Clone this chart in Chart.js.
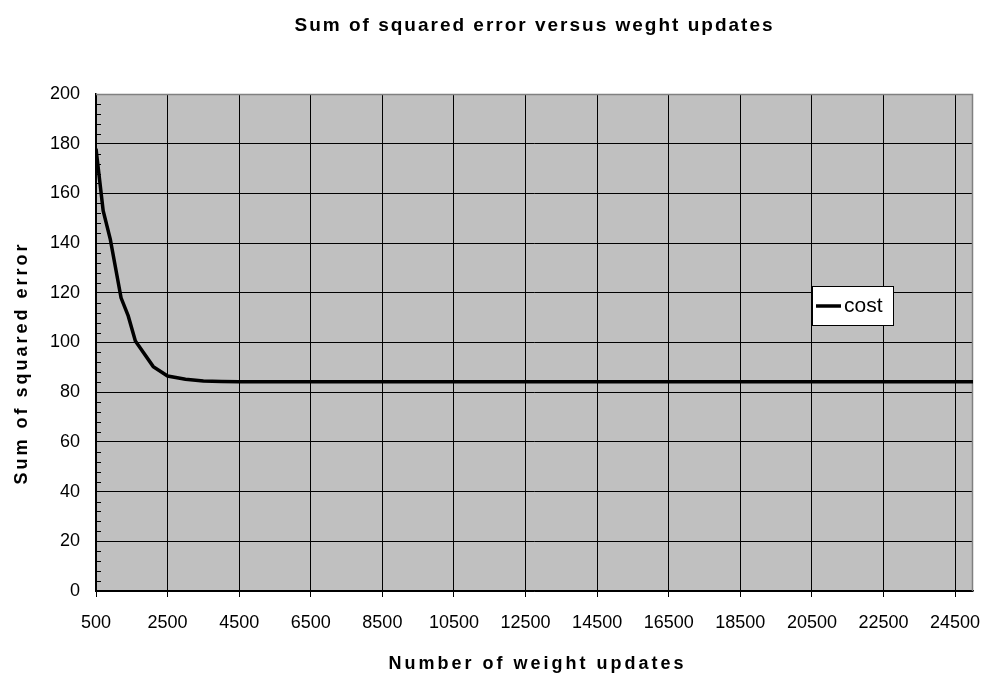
<!DOCTYPE html>
<html>
<head>
<meta charset="utf-8">
<script src="https://cdn.jsdelivr.net/npm/chart.js@4/dist/chart.umd.min.js"></script>
<style>
  html, body { margin: 0; padding: 0; background: #fff; }
  #wrap { width: 988px; height: 681px; position: relative; }
</style>
</head>
<body>
<div id="wrap"><canvas id="chart"></canvas></div>
<script>
// Dados
const chartTitle = 'Sum of squared error versus weght updates';
const xTitle = 'Number of weight updates';
const yTitle = 'Sum of squared error';
const seriesName = 'cost';

const weightUpdates = [500, 700, 900, 1200, 1400, 1600, 2100, 2500, 3000, 3500,
  4000, 4500, 5000, 5500, 6000, 6500, 7000, 7500, 8000, 8500,
  9000, 9500, 10000, 10500, 11000, 11500, 12000, 12500, 13000, 13500,
  14000, 14500, 15000, 15500, 16000, 16500, 17000, 17500, 18000, 18500,
  19000, 19500, 20000, 20500, 21000, 21500, 22000, 22500, 23000, 23500,
  24000, 24500, 25000];
const costValues = [178, 153, 141.5, 118, 110.7, 100.6, 90.3, 86.5, 85.2, 84.5,
  84.3, 84.2, 84.2, 84.2, 84.2, 84.2, 84.2, 84.2, 84.2, 84.2,
  84.2, 84.2, 84.2, 84.2, 84.2, 84.2, 84.2, 84.2, 84.2, 84.2,
  84.2, 84.2, 84.2, 84.2, 84.2, 84.2, 84.2, 84.2, 84.2, 84.2,
  84.2, 84.2, 84.2, 84.2, 84.2, 84.2, 84.2, 84.2, 84.2, 84.2,
  84.2, 84.2, 84.2];

const xTicks = [500, 2500, 4500, 6500, 8500, 10500, 12500, 14500, 16500, 18500, 20500, 22500, 24500];
const yMinorStep = 4;

const FONT = "'Liberation Sans', Arial, sans-serif";

// Fundo cinza da área do gráfico e moldura
const plotArea = {
    id: 'plotArea',
    beforeDraw(chart) {
        const { ctx, chartArea: a } = chart;
        ctx.save();
        ctx.fillStyle = '#c0c0c0';
        ctx.fillRect(a.left, a.top, a.right - a.left, a.bottom - a.top);
        ctx.restore();
    },
    beforeDatasetsDraw(chart) {
        const { ctx, chartArea: a } = chart;
        ctx.save();
        ctx.strokeStyle = '#808080';
        ctx.lineWidth = 1.5;
        ctx.beginPath();
        ctx.moveTo(a.left, a.top + 0.5);
        ctx.lineTo(a.right - 0.5, a.top + 0.5);
        ctx.lineTo(a.right - 0.5, a.bottom);
        ctx.stroke();

        // marcas secundárias no eixo y
        const y = chart.scales.y;
        ctx.strokeStyle = '#000';
        ctx.lineWidth = 1;
        for (let v = y.min; v <= y.max; v += yMinorStep) {
            if (v % 20 === 0) continue;
            const py = Math.round(y.getPixelForValue(v)) + 0.5;
            ctx.beginPath();
            ctx.moveTo(a.left, py);
            ctx.lineTo(a.left + 5, py);
            ctx.stroke();
        }
        ctx.restore();
    }
};

// Títulos com espaçamento largo (estilo Excel) e legenda dentro da área
const excelText = {
    id: 'excelText',
    afterDraw(chart) {
        const { ctx, chartArea: a } = chart;
        ctx.save();
        ctx.fillStyle = '#000';
        ctx.textAlign = 'center';
        ctx.textBaseline = 'alphabetic';

        ctx.font = 'bold 19px ' + FONT;
        ctx.letterSpacing = '2px';
        ctx.fillText(chartTitle, (a.left + a.right) / 2, 31);

        ctx.font = 'bold 18px ' + FONT;
        ctx.letterSpacing = '3px';
        ctx.fillText(xTitle, (a.left + a.right) / 2 + 3, 669);

        ctx.save();
        ctx.translate(27, 363);
        ctx.rotate(-Math.PI / 2);
        ctx.fillText(yTitle, 0, 0);
        ctx.restore();

        // legenda
        ctx.letterSpacing = '0px';
        const bx = a.right - 161, by = a.top + 192, bw = 81, bh = 39;
        ctx.fillStyle = '#fff';
        ctx.fillRect(bx, by, bw, bh);
        ctx.strokeStyle = '#000';
        ctx.lineWidth = 1;
        ctx.strokeRect(bx + 0.5, by + 0.5, bw, bh);
        ctx.lineWidth = 3.5;
        ctx.beginPath();
        ctx.moveTo(bx + 4, by + 20);
        ctx.lineTo(bx + 29, by + 20);
        ctx.stroke();
        ctx.fillStyle = '#000';
        ctx.font = '21px ' + FONT;
        ctx.textAlign = 'left';
        ctx.textBaseline = 'middle';
        ctx.fillText(chart.data.datasets[0].label, bx + 32, by + 20);
        ctx.restore();
    }
};

const ctx = document.getElementById('chart');
new Chart(ctx, {
    type: 'line',
    data: {
        datasets: [{
            label: seriesName,
            data: weightUpdates.map((x, i) => ({ x: x, y: costValues[i] })),
            borderColor: '#000',
            borderWidth: 3.5,
            pointRadius: 0,
            tension: 0,
            fill: false
        }]
    },
    options: {
        responsive: true,
        maintainAspectRatio: false,
        animation: false,
        layout: { padding: { top: 94, right: 15, left: 0, bottom: 0 } },
        plugins: {
            legend: { display: false },
            title: { display: false },
            tooltip: { enabled: false }
        },
        scales: {
            x: {
                type: 'linear',
                min: 500,
                max: 25000,
                afterBuildTicks: axis => { axis.ticks = xTicks.map(v => ({ value: v })); },
                afterFit: axis => {
                    axis.height = 90;
                    axis.paddingLeft = 0;
                    axis.paddingRight = 0;
                },
                grid: { color: '#000', lineWidth: 1, drawTicks: true, tickLength: 6, tickColor: '#000' },
                border: { color: '#000', width: 1.5 },
                ticks: {
                    color: '#000',
                    font: { family: FONT, size: 18 },
                    padding: 15,
                    maxRotation: 0,
                    autoSkip: false,
                    callback: v => String(v)
                }
            },
            y: {
                min: 0,
                max: 200,
                afterFit: axis => {
                    axis.width = 96;
                    axis.paddingTop = 0;
                    axis.paddingBottom = 0;
                },
                grid: {
                    color: c => (c.tick && c.tick.value === 200 ? '#808080' : '#000'),
                    lineWidth: 1,
                    drawTicks: false
                },
                border: { color: '#000', width: 1.5 },
                ticks: {
                    stepSize: 20,
                    color: '#000',
                    font: { family: FONT, size: 18 },
                    padding: 16,
                    callback: v => String(v)
                }
            }
        }
    },
    plugins: [plotArea, excelText]
});
</script>
</body>
</html>
